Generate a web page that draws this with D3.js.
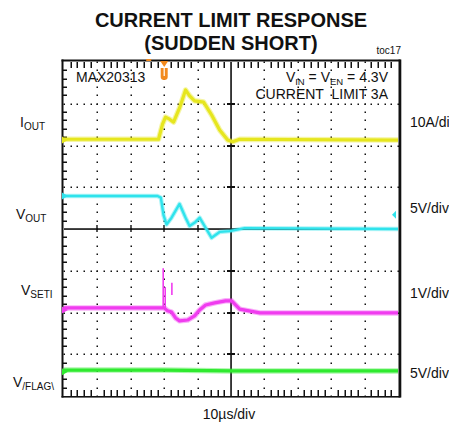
<!DOCTYPE html>
<html><head><meta charset="utf-8">
<script src="https://cdn.jsdelivr.net/npm/d3@7"></script>
<style>
body{margin:0;background:#fff}
svg{display:block}
text{font-family:"Liberation Sans",Arial,Helvetica,sans-serif;fill:#111}
</style>
</head><body>
<svg id="c" width="449" height="425"></svg>
<script>
// ---------- DATA (time in µs, values in channel units, relative to channel marker) ----------
const titleLines = ["CURRENT LIMIT RESPONSE", "(SUDDEN SHORT)"];
const tocLabel = "toc17";

// IOUT, 10A/div
const ioutT = [-50, -21.7, -20.5, -19.6, -18.4, -17.2, -15.4, -13.6, -12.4, -10.9, -8.2, -5.8, -3.4, -1.0, 0.5, 2.6, 50];
const ioutV = [0.2, 0.2, 3.8, 5.5, 5.0, 4.3, 7.7, 12.0, 10.6, 9.4, 9.1, 6.0, 2.4, 0.0, -0.4, 0.2, 0.0];

// VOUT, 5V/div
const voutT = [-50, -22.0, -21.0, -20.2, -19.3, -17.8, -15.4, -13.6, -12.4, -10.6, -9.4, -7.9, -5.8, -3.4, -0.4, 4.1, 50];
const voutV = [0, 0, -0.2, -2.3, -3.4, -2.6, -0.95, -2.6, -3.6, -3.1, -2.6, -3.6, -5.0, -4.3, -4.2, -3.85, -3.95];

// VSETI, 1V/div
const vsetT = [-50, -20.6, -20.0, -19.0, -17.8, -16.6, -15.4, -13.0, -10.9, -9.4, -7.6, -4.9, -1.6, 0.2, 2.6, 8.6, 50];
const vsetV = [0.05, 0.05, 0.05, -0.02, -0.05, -0.19, -0.26, -0.24, -0.14, 0.0, 0.12, 0.17, 0.22, 0.22, 0.02, -0.07, -0.07];
// short glitch segments on VSETI: [t, top, bottom]
const vsetGlitches = [[-20.3, 1.0, 0.05], [-19.7, 0.55, 0.0], [-17.7, 0.65, 0.36]];

// V/FLAG\, 5V/div
const vflagT = [-50, -20, 0, 50];
const vflagV = [0.2, 0.2, 0.1, 0.1];

// channel marker levels (divisions from centre)
const channelOffsets = [2.13, 0.79, -1.94, -3.42];
const channelScales = [10, 5, 1, 5];
const channelScaleLabels = ["10A/div", "5V/div", "1V/div", "5V/div"];
const timeLabel = "10µs/div";
const triggerT = -20;

// ---------- LAYOUT ----------
const svg = d3.select("#c");
const gx0 = 64, gx1 = 398, gy0 = 62, gy1 = 396;
const x = d3.scaleLinear().domain([-50, 50]).range([gx0, gx1]);
const yd = d3.scaleLinear().domain([-4, 4]).range([gy1, gy0]);
const divX = (gx1 - gx0) / 10, divY = (gy1 - gy0) / 8;
const ink = "#111";

// title
titleLines.forEach((t, i) => {
  svg.append("text").attr("x", 231).attr("y", 27 + i * 23)
    .attr("text-anchor", "middle")
    .style("font-weight", "bold").style("font-size", "20px").text(t);
});
svg.append("text").attr("x", 401).attr("y", 54).attr("text-anchor", "end")
  .style("font-size", "10px").text(tocLabel);

const g = svg.append("g").attr("id", "grat");
function box(x0, y0, w, h, fill) {
  g.append("rect").attr("x", x0).attr("y", y0).attr("width", w).attr("height", h).attr("fill", fill || ink);
}
// dotted graticule lines
d3.range(1, 10).filter(i => i !== 5).forEach(i => {
  const xx = Math.round(x(-50 + i * 10));
  d3.range(0, 41).forEach(k => box(xx - 0.5, Math.round(gy0 + k * divY / 5) - 0.5, 1.5, 1.5));
});
d3.range(1, 8).filter(j => j !== 4).forEach(j => {
  const yy = Math.round(yd(4 - j));
  d3.range(0, 51).forEach(k => box(Math.round(gx0 + k * divX / 5) - 0.5, yy - 0.5, 1.5, 1.5));
});
// edge minor ticks
d3.range(1, 50).filter(k => k % 5 !== 0).forEach(k => {
  const xx = Math.round(gx0 + k * divX / 5);
  box(xx - 0.5, gy0, 1.5, 6);
  box(xx - 0.5, gy1 - 6, 1.5, 6);
});
d3.range(1, 40).filter(k => k % 5 !== 0).forEach(k => {
  const yy = Math.round(gy0 + k * divY / 5);
  box(gx0 - 2, yy - 0.5, 5, 1.5);
});
// centre cross + marks
const cx = Math.round(x(0)), cy = Math.round(yd(0));
box(cx - 0.75, gy0, 1.6, gy1 - gy0);
box(gx0, cy - 0.75, gx1 - gx0, 1.6);
d3.range(-3, 4).filter(j => j !== 0).forEach(j => box(cx - 4, Math.round(yd(j)) - 1, 8, 2));
d3.range(-4, 5).filter(i => i !== 0).forEach(i => box(Math.round(x(i * 10)) - 0.7, cy - 4, 1.4, 7));
// frame
box(gx0 - 2.5, gy0 - 2.5, gx1 - gx0 + 5, 2);
box(gx0 - 2.5, gy1, gx1 - gx0 + 5, 1.6);
box(gx0 - 2.5, gy0 - 2.5, 2, gy1 - gy0 + 4);
box(gx1 + 0.5, gy0 - 2.5, 2.8, gy1 - gy0 + 4);

// traces
const colors = ["#e6e61e", "#2fe3ec", "#f03cef", "#2fea2f"];
const series = [[ioutT, ioutV], [voutT, voutV], [vsetT, vsetV], [vflagT, vflagV]];
const yc = (ci, v) => yd(channelOffsets[ci] + v / channelScales[ci]);
const tg = svg.append("g");
const line = d3.line();
series.forEach(([ts, vs], ci) => {
  const pts = ts.map((t, i) => [x(t), yc(ci, vs[i])]);
  tg.append("path").attr("d", line(pts)).attr("fill", "none")
    .attr("stroke", colors[ci]).attr("stroke-opacity", 0.4).attr("stroke-width", ci === 1 ? 4.5 : 5.5).attr("stroke-linejoin", "round");
  tg.append("path").attr("d", line(pts)).attr("fill", "none")
    .attr("stroke", colors[ci]).attr("stroke-width", ci === 1 ? 2.4 : 3.2).attr("stroke-linejoin", "round");
});
vsetGlitches.forEach(d => {
  tg.append("line").attr("x1", x(d[0])).attr("x2", x(d[0]))
    .attr("y1", yc(2, d[1])).attr("y2", yc(2, d[2]))
    .attr("stroke", colors[2]).attr("stroke-width", 1.6);
});

// channel markers on left edge
channelOffsets.forEach((o, i) => {
  const yy = yd(o);
  svg.append("path").attr("d", `M${gx0 - 2},${yy - 3.5}L${gx0 + 4},${yy}L${gx0 - 2},${yy + 3.5}Z`).attr("fill", colors[i]);
});
// cyan marker at right edge
const ry = yd(0.34);
svg.append("path").attr("d", `M${gx1 - 2},${ry - 4}L${gx1 - 6},${ry}L${gx1 - 2},${ry + 4}Z`).attr("fill", colors[1]);

// trigger markers
const tx = x(triggerT);
svg.append("path").attr("d", `M${tx - 4},${gy0 - 1}L${tx + 4},${gy0 - 1}L${tx},${gy0 + 5}Z`).attr("fill", "#f28a1e");
svg.append("rect").attr("x", tx - 18).attr("y", gy0 - 3).attr("width", 5).attr("height", 2).attr("fill", "#f28a1e");
svg.append("path").attr("d", `M${tx - 3.5},${gy0 + 6}h7v9q0,3 -3.5,3q-3.5,0 -3.5,-3Z`).attr("fill", "#f28a1e");
svg.append("line").attr("x1", tx).attr("x2", tx).attr("y1", gy0 + 6).attr("y2", gy0 + 14).attr("stroke", "#fff").attr("stroke-width", 1.2);

// inner texts
svg.append("text").attr("x", 76).attr("y", 82).style("font-size", "14px").text("MAX20313");
const t1 = svg.append("text").attr("x", 388).attr("y", 82).attr("text-anchor", "end").style("font-size", "14px");
t1.append("tspan").text("V");
t1.append("tspan").attr("dy", 3).style("font-size", "9.5px").text("IN");
t1.append("tspan").attr("dy", -3).text(" = V");
t1.append("tspan").attr("dy", 3).style("font-size", "9.5px").text("EN");
t1.append("tspan").attr("dy", -3).text(" = 4.3V");
svg.append("text").attr("x", 388).attr("y", 98.5).attr("text-anchor", "end").style("font-size", "14px")
  .attr("xml:space", "preserve").text("CURRENT  LIMIT 3A");

// left labels
const leftMain = ["I", "V", "V", "V"];
const leftSub = ["OUT", "OUT", "SETI", "/FLAG\\"];
const leftX = [20, 16, 21, 13];
const leftY = [127, 219, 295, 386.5];
leftMain.forEach((m, i) => {
  const t = svg.append("text").attr("x", leftX[i]).attr("y", leftY[i]).style("font-size", "14px");
  t.append("tspan").text(m);
  t.append("tspan").attr("dy", 3).style("font-size", "10px").text(leftSub[i]);
});
// right labels
const rightY = [127, 213, 298, 378];
channelScaleLabels.forEach((d, i) => {
  svg.append("text").attr("x", 410).attr("y", rightY[i]).style("font-size", "14px").text(d);
});
svg.append("text").attr("x", 229).attr("y", 419).attr("text-anchor", "middle").style("font-size", "14px").text(timeLabel);
</script>
</body></html>
